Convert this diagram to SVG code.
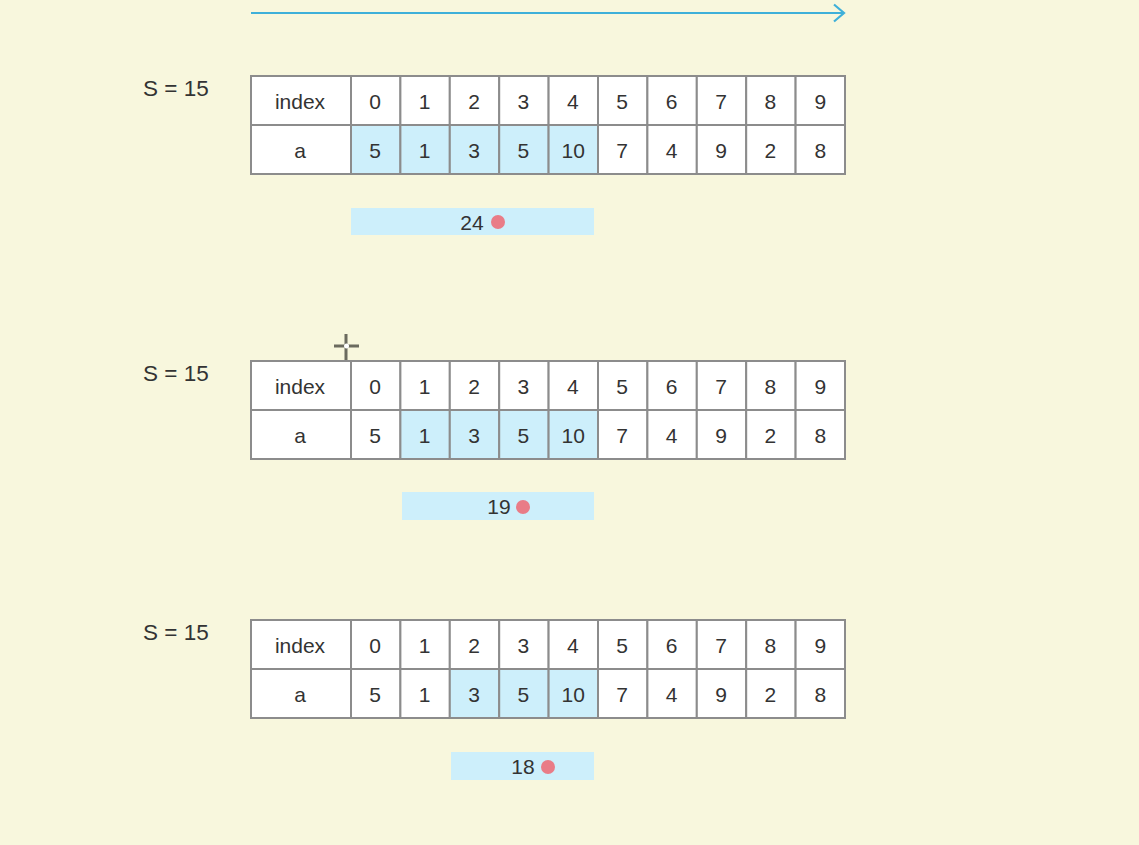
<svg xmlns="http://www.w3.org/2000/svg" width="1139" height="845" viewBox="0 0 1139 845">
<style>
.t{font-family:"Liberation Sans",Arial,sans-serif;font-size:21px;fill:#333;text-anchor:middle}
.s{font-family:"Liberation Sans",Arial,sans-serif;font-size:22.5px;fill:#333}
.c{fill:#fff;stroke:#8c8c8c;stroke-width:2}
.h{fill:#cdeffb;stroke:#8c8c8c;stroke-width:2}
.bar{fill:#cdeffb}
.dot{fill:#e97c87}
</style>
<rect width="1139" height="845" fill="#f8f7dd"/>
<g id="connectors">
<line x1="251" y1="13" x2="843" y2="13" stroke="#3fb0d9" stroke-width="2.2"/>
<polyline points="834,4.5 844,13 834,21.5" fill="none" stroke="#3fb0d9" stroke-width="2.2"/>
</g>
<defs>
<g id="hdr">
<rect class="c" x="251" y="0" width="100" height="49"/>
<rect class="c" x="251" y="49" width="100" height="49"/>
<text class="t" x="300" y="32.5">index</text>
<text class="t" x="300" y="82">a</text>
<rect class="c" x="351" y="0" width="49.4" height="49"/>
<rect class="c" x="400.4" y="0" width="49.4" height="49"/>
<rect class="c" x="449.8" y="0" width="49.4" height="49"/>
<rect class="c" x="499.2" y="0" width="49.4" height="49"/>
<rect class="c" x="548.6" y="0" width="49.4" height="49"/>
<rect class="c" x="598" y="0" width="49.4" height="49"/>
<rect class="c" x="647.4" y="0" width="49.4" height="49"/>
<rect class="c" x="696.8" y="0" width="49.4" height="49"/>
<rect class="c" x="746.2" y="0" width="49.4" height="49"/>
<rect class="c" x="795.6" y="0" width="49.4" height="49"/>
<text class="t" x="375.2" y="32.5">0</text>
<text class="t" x="424.6" y="32.5">1</text>
<text class="t" x="474" y="32.5">2</text>
<text class="t" x="523.4" y="32.5">3</text>
<text class="t" x="572.8" y="32.5">4</text>
<text class="t" x="622.2" y="32.5">5</text>
<text class="t" x="671.6" y="32.5">6</text>
<text class="t" x="721" y="32.5">7</text>
<text class="t" x="770.4" y="32.5">8</text>
<text class="t" x="820.3" y="32.5">9</text>
</g>
<g id="vals">
<text class="t" x="375.2" y="82">5</text>
<text class="t" x="424.6" y="82">1</text>
<text class="t" x="474" y="82">3</text>
<text class="t" x="523.4" y="82">5</text>
<text class="t" x="573.3" y="82">10</text>
<text class="t" x="622.2" y="82">7</text>
<text class="t" x="671.6" y="82">4</text>
<text class="t" x="721" y="82">9</text>
<text class="t" x="770.4" y="82">2</text>
<text class="t" x="820.3" y="82">8</text>
</g>
</defs>

<g id="table1" transform="translate(0,76)">
<text class="s" x="143" y="20">S = 15</text>
<use href="#hdr"/>
<rect class="h" x="351" y="49" width="49.4" height="49"/>
<rect class="h" x="400.4" y="49" width="49.4" height="49"/>
<rect class="h" x="449.8" y="49" width="49.4" height="49"/>
<rect class="h" x="499.2" y="49" width="49.4" height="49"/>
<rect class="h" x="548.6" y="49" width="49.4" height="49"/>
<rect class="c" x="598" y="49" width="49.4" height="49"/>
<rect class="c" x="647.4" y="49" width="49.4" height="49"/>
<rect class="c" x="696.8" y="49" width="49.4" height="49"/>
<rect class="c" x="746.2" y="49" width="49.4" height="49"/>
<rect class="c" x="795.6" y="49" width="49.4" height="49"/>
<use href="#vals"/>
</g>
<g id="sum1">
<rect class="bar" x="351" y="208" width="243" height="27"/>
<text class="t" x="472" y="229.5">24</text>
<circle class="dot" cx="498" cy="222" r="7"/>
</g>

<g id="table2" transform="translate(0,361)">
<text class="s" x="143" y="19.5">S = 15</text>
<use href="#hdr"/>
<rect class="c" x="351" y="49" width="49.4" height="49"/>
<rect class="h" x="400.4" y="49" width="49.4" height="49"/>
<rect class="h" x="449.8" y="49" width="49.4" height="49"/>
<rect class="h" x="499.2" y="49" width="49.4" height="49"/>
<rect class="h" x="548.6" y="49" width="49.4" height="49"/>
<rect class="c" x="598" y="49" width="49.4" height="49"/>
<rect class="c" x="647.4" y="49" width="49.4" height="49"/>
<rect class="c" x="696.8" y="49" width="49.4" height="49"/>
<rect class="c" x="746.2" y="49" width="49.4" height="49"/>
<rect class="c" x="795.6" y="49" width="49.4" height="49"/>
<use href="#vals"/>
</g>
<g id="sum2">
<rect class="bar" x="402" y="492" width="192" height="28"/>
<text class="t" x="499" y="514">19</text>
<circle class="dot" cx="523" cy="507" r="7"/>
</g>

<g id="table3" transform="translate(0,620)">
<text class="s" x="143" y="20">S = 15</text>
<use href="#hdr"/>
<rect class="c" x="351" y="49" width="49.4" height="49"/>
<rect class="c" x="400.4" y="49" width="49.4" height="49"/>
<rect class="h" x="449.8" y="49" width="49.4" height="49"/>
<rect class="h" x="499.2" y="49" width="49.4" height="49"/>
<rect class="h" x="548.6" y="49" width="49.4" height="49"/>
<rect class="c" x="598" y="49" width="49.4" height="49"/>
<rect class="c" x="647.4" y="49" width="49.4" height="49"/>
<rect class="c" x="696.8" y="49" width="49.4" height="49"/>
<rect class="c" x="746.2" y="49" width="49.4" height="49"/>
<rect class="c" x="795.6" y="49" width="49.4" height="49"/>
<use href="#vals"/>
</g>
<g id="sum3">
<rect class="bar" x="451" y="752" width="143" height="28"/>
<text class="t" x="523" y="774">18</text>
<circle class="dot" cx="548" cy="767" r="7"/>
</g>

<g id="cursor">
<path d="M346,334 V360 M334,346 H359" stroke="#6b6b5e" stroke-width="3"/>
<circle cx="346.5" cy="346" r="2.5" fill="#fff"/>
</g>
</svg>
